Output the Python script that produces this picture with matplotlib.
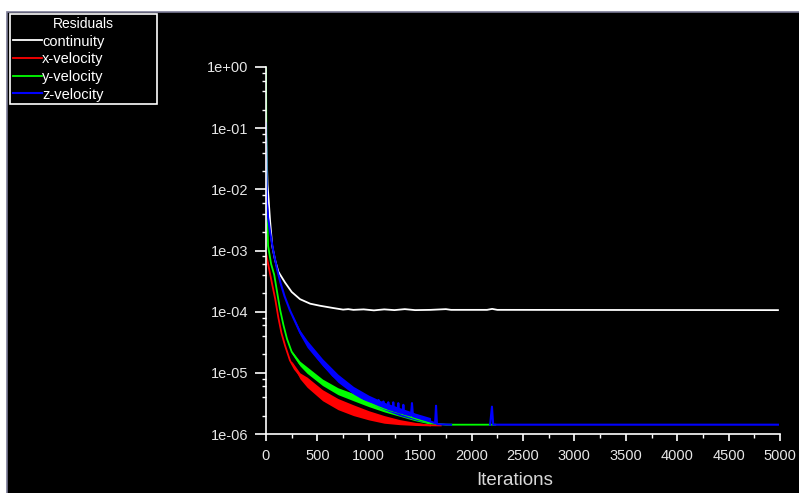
import matplotlib
matplotlib.use("Agg")
import matplotlib.pyplot as plt
from matplotlib.patches import Rectangle
from matplotlib.ticker import LogLocator, MultipleLocator, NullFormatter
import numpy as np

plt.rcParams['font.family'] = ['Liberation Sans', 'DejaVu Sans']

# residual histories
iter_cont = [0, 8, 15, 25, 40, 60, 88, 120, 185, 250, 331, 430, 525, 650, 750, 800, 850,
             950, 1050, 1150, 1250, 1350, 1450, 1600, 1750, 1800, 2150, 2200, 2250, 4980]
continuity = [0.09, 0.03, 0.012, 0.007, 0.003, 0.0012, 0.0007, 0.00045, 0.0003, 0.00021,
              0.00016, 0.000135, 0.000125, 0.000115, 0.000108, 0.00011, 0.000107,
              0.000109, 0.000105, 0.000109, 0.000106, 0.00011, 0.000106, 0.000107,
              0.00011, 0.000107, 0.000107, 0.000111, 0.000107, 0.000106]

iter_x = [0, 30, 60, 90, 120, 150, 185, 233, 280, 331, 400, 550, 700, 850, 1000, 1150,
          1300, 1450, 1600, 1700]
x_vel = [0.0009, 0.0005, 0.00028, 0.00016, 8e-5, 4.5e-5, 2.8e-5, 1.6e-5, 1.15e-5, 9e-6,
         7e-6, 4.3e-6, 3.1e-6, 2.5e-6, 2e-6, 1.7e-6, 1.55e-6, 1.45e-6, 1.39e-6, 1.38e-6]

iter_y = [0, 3, 8, 20, 50, 80, 110, 136, 170, 204, 250, 330, 400, 550, 700, 850, 1000,
          1150, 1300, 1450, 1600, 1750, 2230]
y_vel = [1.0, 0.1, 0.006, 0.0012, 0.0006, 0.0004, 0.0002, 0.00011, 6e-5, 3.6e-5,
         2.2e-5, 1.4e-5, 1.1e-5, 7e-6, 5e-6, 4e-6, 3.2e-6, 2.6e-6, 2.2e-6, 1.8e-6,
         1.5e-6, 1.42e-6, 1.42e-6]

iter_z = [0, 4, 10, 20, 40, 70, 107, 140, 180, 233, 290, 331, 420, 510, 650, 817, 950,
          1090, 1095, 1100, 1138, 1142, 1146, 1187, 1190, 1194, 1235, 1238, 1242,
          1284, 1287, 1291, 1333, 1336, 1340, 1410, 1420, 1430, 1500, 1600, 1645, 1654,
          1663, 1800, 1810, 2180, 2198, 2210, 4980]
z_vel = [0.12, 0.02, 0.006, 0.0035, 0.002, 0.001, 0.0005, 0.0003, 0.00018, 0.000105,
         6.5e-5, 4.6e-5, 2.7e-5, 1.7e-5, 9e-6, 5.4e-6, 3.9e-6,
         3.0e-6, 3.6e-6, 2.95e-6, 2.8e-6, 3.4e-6, 2.75e-6, 2.6e-6, 3.3e-6, 2.55e-6,
         2.45e-6, 3.3e-6, 2.4e-6, 2.3e-6, 3.2e-6, 2.25e-6, 2.2e-6, 3.0e-6, 2.15e-6,
         2.0e-6, 3.2e-6, 1.95e-6, 1.8e-6, 1.6e-6, 1.5e-6, 2.9e-6, 1.45e-6, 1.42e-6, np.nan,
         1.42e-6, 2.8e-6, 1.42e-6, 1.42e-6]

# noise bands of the velocity residuals
iter_band = [250, 330, 400, 550, 700, 850, 1000, 1150, 1300, 1450, 1600]
x_lo = [1.45e-5, 8e-6, 5.8e-6, 3.5e-6, 2.5e-6, 2.0e-6, 1.7e-6, 1.5e-6, 1.42e-6, 1.38e-6, 1.36e-6]
x_hi = [1.55e-5, 1.0e-5, 8.5e-6, 5.3e-6, 3.8e-6, 3.0e-6, 2.4e-6, 2.0e-6, 1.72e-6, 1.55e-6, 1.43e-6]
y_lo = [2.1e-5, 1.3e-5, 9.8e-6, 6.2e-6, 4.4e-6, 3.5e-6, 2.8e-6, 2.3e-6, 1.95e-6, 1.65e-6, 1.45e-6]
y_hi = [2.3e-5, 1.55e-5, 1.25e-5, 7.9e-6, 5.7e-6, 4.6e-6, 3.7e-6, 3.0e-6, 2.5e-6, 2.0e-6, 1.6e-6]
z_lo = [8.5e-5, 4.2e-5, 2.6e-5, 1.3e-5, 7e-6, 4.5e-6, 3.2e-6, 2.5e-6, 2.0e-6, 1.7e-6, 1.5e-6]
z_hi = [9.5e-5, 5.0e-5, 3.4e-5, 1.7e-5, 9.5e-6, 6e-6, 4.3e-6, 3.3e-6, 2.7e-6, 2.2e-6, 1.85e-6]

y_ticks = [1e-6, 1e-5, 1e-4, 1e-3, 1e-2, 1e-1, 1e0]
y_ticklabels = ['1e-06', '1e-05', '1e-04', '1e-03', '1e-02', '1e-01', '1e+00']

fig = plt.figure(figsize=(7.99, 4.93), dpi=100)
fig.patch.set_facecolor('white')
# black panel with white strip on top and left
panel = Rectangle((7/799, -0.01), 1.0, 1 - 12/493 + 0.01, transform=fig.transFigure,
                  facecolor='black', edgecolor='#7a7a96', linewidth=1.2, zorder=-10)
fig.add_artist(panel)

ax = fig.add_axes([266/799, 59/493, 514/799, 367/493])
ax.set_zorder(5)
ax.set_facecolor('none')

ax.plot(iter_cont, continuity, color='white', lw=1.3, label='continuity')
ax.fill_between(iter_band, x_lo, x_hi, color='#ff0000', lw=0)
ax.plot(iter_x, x_vel, color='#ff0000', lw=1.3, label='x-velocity')
ax.fill_between(iter_band, y_lo, y_hi, color='#00ff00', lw=0)
ax.plot(iter_y, y_vel, color='#00ff00', lw=1.3, label='y-velocity')
ax.fill_between(iter_band, z_lo, z_hi, color='#0000ff', lw=0)
ax.plot(iter_z, z_vel, color='#0000ff', lw=1.5, label='z-velocity')

ax.set_yscale('log')
ax.set_xlim(0, 5000)
ax.set_ylim(1e-6, 1)
ax.xaxis.set_major_locator(MultipleLocator(500))
ax.xaxis.set_minor_locator(MultipleLocator(250))
ax.set_yticks(y_ticks)
ax.set_yticklabels(y_ticklabels)
ax.yaxis.set_minor_locator(LogLocator(base=10, subs=(2, 4, 6, 8), numticks=10))
ax.yaxis.set_minor_formatter(NullFormatter())

for s in ['top', 'right']:
    ax.spines[s].set_visible(False)
for s in ['left', 'bottom']:
    ax.spines[s].set_color('white')
    ax.spines[s].set_linewidth(1.2)

ax.tick_params(which='major', colors='white', labelcolor='#e6e6e6', labelsize=10.5, width=1.2)
ax.tick_params(axis='y', which='major', length=8, pad=5)
ax.tick_params(axis='x', which='major', length=5, pad=6)
ax.tick_params(which='minor', colors='white', length=3, width=1)

ax.set_xlabel('Iterations', color='#d8d8d8', fontsize=13.5)
ax.xaxis.set_label_coords(0.483, -0.103)

leg = ax.legend(loc='upper left', bbox_to_anchor=(10/799, 1 - 100/493, 147/799, 86/493),
                bbox_transform=fig.transFigure, mode='expand', borderaxespad=0,
                title='Residuals', fontsize=10.5, title_fontsize=10, fancybox=False,
                frameon=True, handlelength=2.0, handletextpad=0.0, labelspacing=0.25,
                borderpad=0.2, facecolor='black', edgecolor='white', framealpha=1)
leg.get_frame().set_linewidth(1.2)
for t in leg.get_texts():
    t.set_color('white')
leg.get_title().set_color('white')

fig.savefig('out.png', dpi=100, facecolor=fig.get_facecolor())
